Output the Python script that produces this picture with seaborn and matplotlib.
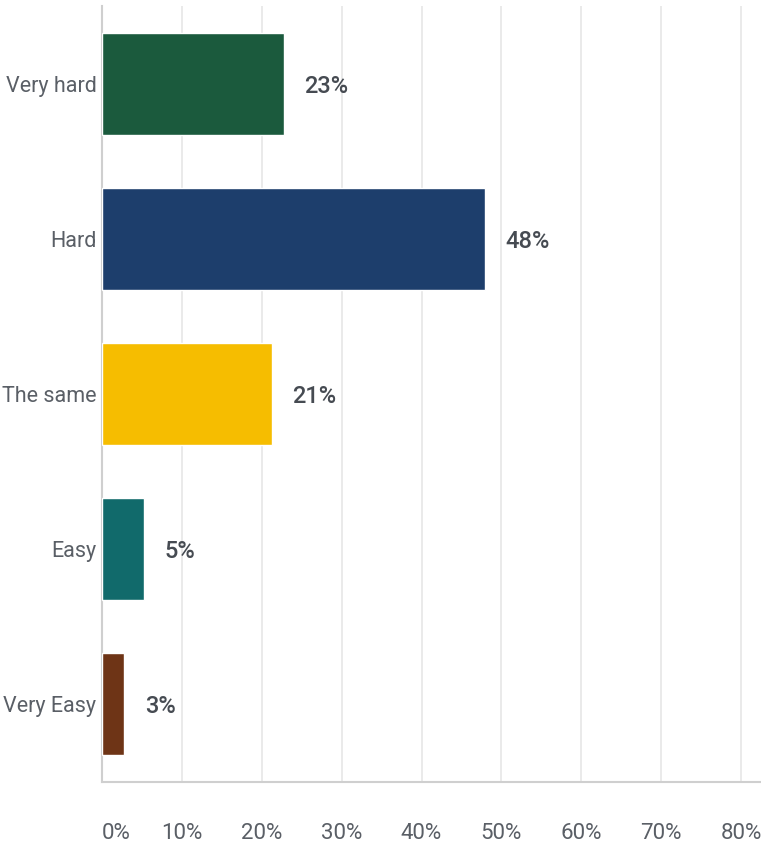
import pandas as pd
import seaborn as sns
import matplotlib.pyplot as plt
from matplotlib.ticker import FuncFormatter

categories = ["Very hard", "Hard", "The same", "Easy", "Very Easy"]
percent = [22.75, 47.9, 21.25, 5.25, 2.75]
labels = ["23%", "48%", "21%", "5%", "3%"]
colors = ["#1b5a3d", "#1d3e6c", "#f6bd00", "#116a6b", "#6e3416"]
x_ticks = [0, 10, 20, 30, 40, 50, 60, 70, 80]

sns.set_style("white")
plt.rcParams['font.family'] = ['Roboto', 'DejaVu Sans']

df = pd.DataFrame({"answer": categories, "pct": percent})

fig = plt.figure(figsize=(7.61, 8.43), dpi=100)
ax = fig.add_axes([102 / 761, (843 - 781.5) / 843, 659 / 761, 775 / 843])

sns.barplot(data=df, x="pct", y="answer", hue="answer", palette=colors,
            order=categories, hue_order=categories, width=0.66,
            saturation=1, legend=False, ax=ax, zorder=3)

for patch, txt in zip(ax.patches, labels):
    w = patch.get_width()
    yc = patch.get_y() + patch.get_height() / 2
    ax.annotate(txt, (w, yc), xytext=(15, -2), textcoords="offset points",
                ha="left", va="center", fontsize=17, fontweight="medium",
                color="#464b52")

ax.set_xlim(0, 82.5)
ax.set_ylim(4.5, -0.5)
ax.set_xticks(x_ticks)
ax.xaxis.set_major_formatter(FuncFormatter(lambda v, p: f"{int(v)}%"))
ax.grid(axis="x", color="#e6e6e6", linewidth=1.2, zorder=0)
ax.tick_params(axis="x", length=0, pad=30, labelsize=16, labelcolor="#5a5f66")
ax.tick_params(axis="y", length=0, pad=4, labelsize=15.5, labelcolor="#5a5f66")
ax.get_xticklabels()[0].set_horizontalalignment("left")
ax.set_xlabel("")
ax.set_ylabel("")

for side in ["top", "right"]:
    ax.spines[side].set_visible(False)
for side in ["left", "bottom"]:
    ax.spines[side].set_color("#cfcfcf")
    ax.spines[side].set_linewidth(1.5)

plt.savefig("out.png", dpi=100)
plt.close()
